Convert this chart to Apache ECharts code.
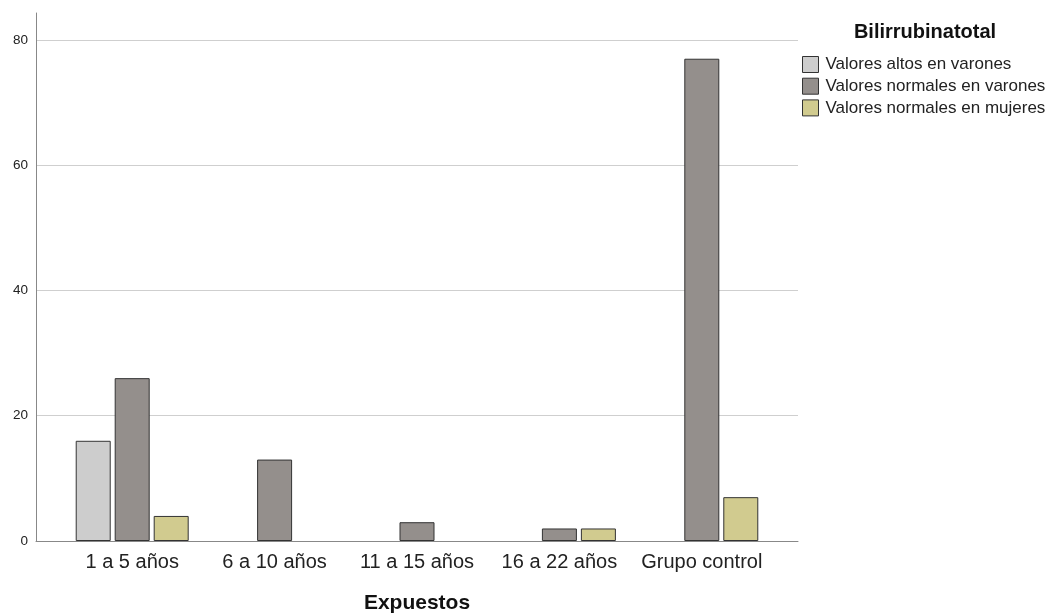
<!DOCTYPE html>
<html>
<head>
<meta charset="utf-8">
<script src="https://cdn.jsdelivr.net/npm/echarts@6/dist/echarts.min.js"></script>
<style>html,body{margin:0;padding:0;background:#fff}#c{width:1050px;height:614px}</style>
</head>
<body>
<div id="c"></div>
<script>
const categories = ['1 a 5 años', '6 a 10 años', '11 a 15 años', '16 a 22 años', 'Grupo control'];
const seriesNames = ['Valores altos en varones', 'Valores normales en varones', 'Valores normales en mujeres'];
const altosVarones = [16, null, null, null, null];
const normalesVarones = [26, 13, 3, 2, 77];
const normalesMujeres = [4, null, null, 2, 7];
const yTicks = [0, 20, 40, 60, 80];

const colors = ['#cdcdcd', '#948f8c', '#d1cb8f'];
const font = 'Arial, "Liberation Sans", sans-serif';
const chart = echarts.init(document.getElementById('c'), null, {renderer: 'canvas'});
const yMax = 84.3;
const mkSeries = (name, data, color) => ({
  name, type: 'bar', data, xAxisIndex: 0, yAxisIndex: 0,
  barWidth: 35, barGap: '11.4%',
  itemStyle: {color, borderColor: '#333', borderWidth: 1},
  emphasis: {disabled: true}
});
chart.setOption({
  animation: false,
  textStyle: {fontFamily: font},
  title: {
    text: 'Bilirrubinatotal', left: 925, top: 22, textAlign: 'center', padding: 0,
    textStyle: {fontSize: 20, fontWeight: 'bold', color: '#111', fontFamily: font}
  },
  legend: {
    orient: 'vertical', left: 802, top: 56, itemWidth: 16, itemHeight: 16, itemGap: 4.7, padding: 0,
    icon: 'rect', data: seriesNames,
    textStyle: {fontSize: 17, lineHeight: 17, color: '#222', fontFamily: font, padding: [0, 0, 0, 2]},
    itemStyle: {borderColor: '#333', borderWidth: 1}
  },
  grid: [
    {left: 61, right: 277, top: 13, bottom: 73, outerBoundsMode: 'none', containLabel: false},
    {left: 36, right: 252, top: 13, bottom: 73, outerBoundsMode: 'none', containLabel: false}
  ],
  xAxis: [
    {
      type: 'category', gridIndex: 0, data: categories,
      axisLine: {show: false}, axisTick: {show: false},
      axisLabel: {fontSize: 20, color: '#222', margin: 11, interval: 0, hideOverlap: false, fontFamily: font},
      name: 'Expuestos', nameLocation: 'middle', nameGap: 52,
      nameTextStyle: {fontSize: 21, fontWeight: 'bold', color: '#111', fontFamily: font}
    },
    {
      type: 'value', gridIndex: 1, min: 0, max: 1,
      axisLine: {show: true, lineStyle: {color: '#888', width: 1}},
      axisTick: {show: false}, axisLabel: {show: false}, splitLine: {show: false}
    }
  ],
  yAxis: [
    {
      type: 'value', gridIndex: 0, min: 0, max: yMax,
      axisLine: {show: false}, axisTick: {show: false}, axisLabel: {show: false}, splitLine: {show: false}
    },
    {
      type: 'value', gridIndex: 1, min: yTicks[0], max: yMax, interval: 20,
      axisLine: {show: true, lineStyle: {color: '#888', width: 1}},
      axisTick: {show: false},
      axisLabel: {fontSize: 13.5, color: '#222', margin: 8, showMaxLabel: false, fontFamily: font,
        formatter: v => (yTicks.indexOf(v) >= 0 ? String(v) : '')},
      splitLine: {show: true, showMinLine: false, showMaxLine: false, lineStyle: {color: '#cfcfcf', width: 1}}
    }
  ],
  series: [
    mkSeries(seriesNames[0], altosVarones, colors[0]),
    mkSeries(seriesNames[1], normalesVarones, colors[1]),
    mkSeries(seriesNames[2], normalesMujeres, colors[2])
  ]
});
</script>
</body>
</html>
